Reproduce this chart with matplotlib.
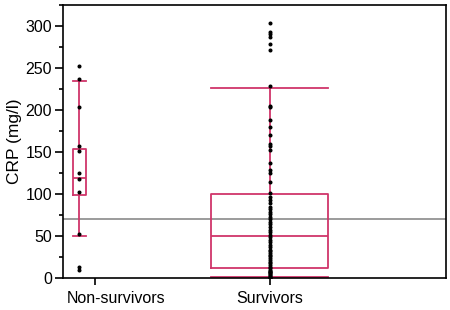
import numpy as np
import matplotlib
matplotlib.use("Agg")
import matplotlib.pyplot as plt
import matplotlib.transforms as mtransforms
from matplotlib.ticker import MultipleLocator

plt.rcParams['font.family'] = ['Liberation Sans', 'DejaVu Sans']

# groups and where they sit on the x axis
groups = ['Non-survivors', 'Survivors']
box_pos = [0.43, 5.40]        # box / dot centres
tick_pos = [0.84, 5.40]       # tick marks under the axis
box_w = [0.34, 3.05]

# CRP values (mg/l)
non_surv = [252, 237, 203, 157, 151, 125, 118, 102, 53, 13, 10]
surv = [303, 293, 290, 287, 278, 271, 228, 205, 203, 188, 180, 170, 160,
        157, 152, 137, 129, 125, 115, 101, 97, 93, 89, 85, 82, 79, 76, 73,
        70, 67, 64, 61, 58, 55, 52, 49, 46, 43, 40, 37, 34, 32, 30, 28, 26,
        24, 22, 20, 18, 16, 14, 12, 10, 9, 8, 7, 6, 5, 4, 3, 2, 1, 0.5]

# box statistics as drawn
q1 = [99, 12]
med = [119, 50]
q3 = [154, 100]
wlo = [50, 2]
whi = [234, 226]

cutoff = 70

red = '#d0356a'

fig = plt.figure(figsize=(4.5, 3.1), dpi=100)
ax = fig.add_axes([0.14, 0.102, 0.851, 0.883])

stats = []
for i in range(2):
    stats.append(dict(med=med[i], q1=q1[i], q3=q3[i], whislo=wlo[i],
                      whishi=whi[i], fliers=[]))

lp = dict(color=red, linewidth=1.3)
ax.bxp(stats, positions=box_pos, widths=box_w, showfliers=False,
       boxprops=lp, whiskerprops=lp, capprops=lp, medianprops=lp,
       capwidths=box_w, manage_ticks=False)

ax.plot([box_pos[0]] * len(non_surv), non_surv, 'o', color='black', ms=1.9, zorder=3)
ax.plot([box_pos[1]] * len(surv), surv, 'o', color='black', ms=1.9, zorder=3)

ax.axhline(cutoff, color='#808080', linewidth=1.1, zorder=1)

ax.set_xlim(0, 10)
ax.set_ylim(0, 325)
ax.yaxis.set_major_locator(MultipleLocator(50))
ax.yaxis.set_minor_locator(MultipleLocator(25))
ax.set_xticks(tick_pos)
ax.set_xticklabels(groups, fontsize=12)
ax.set_ylabel('CRP (mg/l)', fontsize=12.5, labelpad=2)

for s in ax.spines.values():
    s.set_linewidth(1.2)
ax.tick_params(axis='both', direction='out', width=1.2, length=6, labelsize=11.5, colors='black', pad=2)
ax.tick_params(axis='x', length=5, pad=4)
ax.tick_params(axis='y', which='minor', direction='out', width=1.2, length=3)

# first category label sits a bit to the right of its tick
lab = ax.get_xticklabels()[0]
lab.set_transform(lab.get_transform() + mtransforms.ScaledTranslation(0.21, 0, fig.dpi_scale_trans))

fig.savefig('out.png', dpi=100)
